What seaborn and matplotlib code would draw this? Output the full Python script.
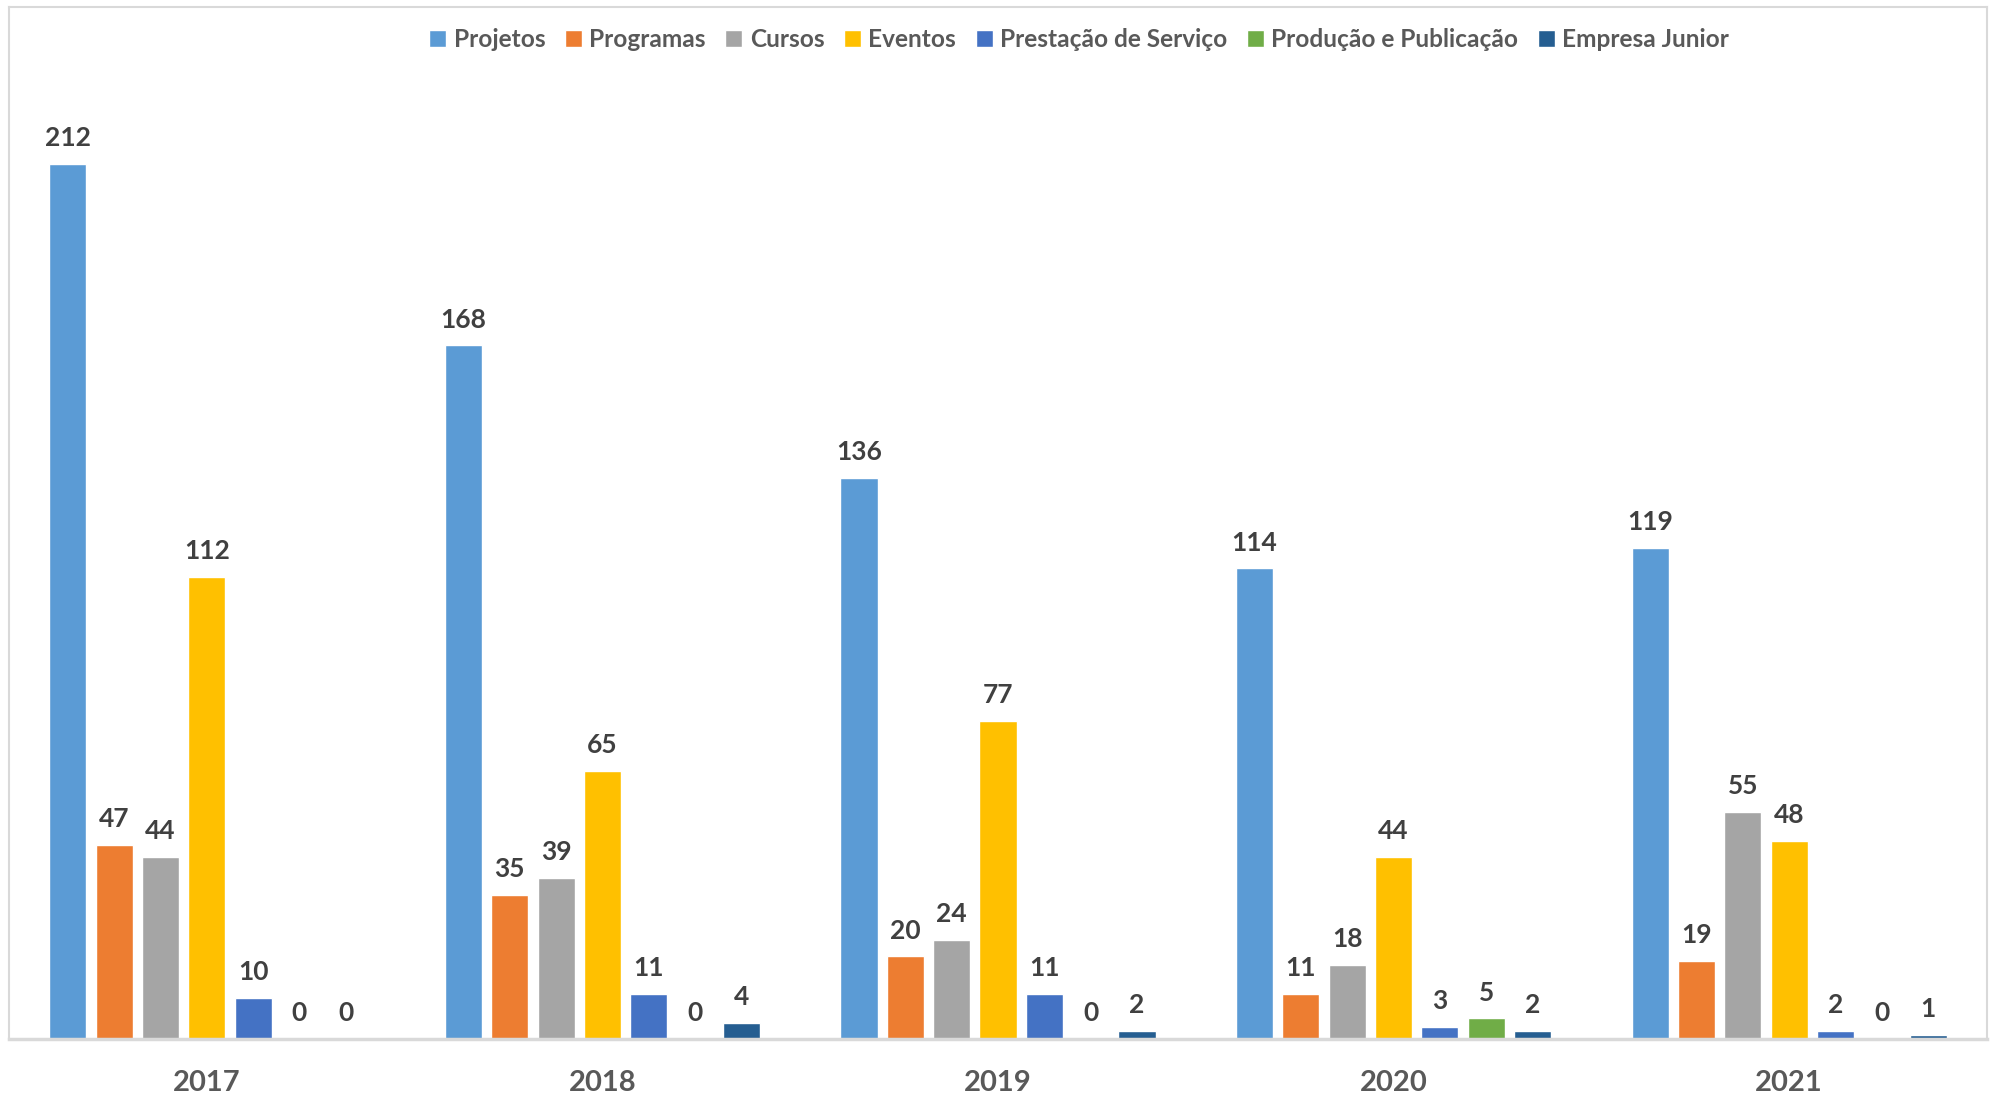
import matplotlib
matplotlib.use("Agg")
import matplotlib.pyplot as plt
import seaborn as sns
import pandas as pd

# ---------------------------------------------------------------------------
# data
# ---------------------------------------------------------------------------
years = ["2017", "2018", "2019", "2020", "2021"]
categories = ["Projetos", "Programas", "Cursos", "Eventos",
              "Prestação de Serviço", "Produção e Publicação", "Empresa Junior"]

projetos = [212, 168, 136, 114, 119]
programas = [47, 35, 20, 11, 19]
cursos = [44, 39, 24, 18, 55]
eventos = [112, 65, 77, 44, 48]
prestacao = [10, 11, 11, 3, 2]
producao = [0, 0, 0, 5, 0]
empresa_junior = [0, 4, 2, 2, 1]

colors = ["#5B9BD5", "#ED7D31", "#A5A5A5", "#FFC000",
          "#4472C4", "#70AD47", "#255E91"]

series = [projetos, programas, cursos, eventos, prestacao, producao, empresa_junior]
rows = []
for cat, vals in zip(categories, series):
    for yr, v in zip(years, vals):
        rows.append({"Ano": yr, "Categoria": cat, "Valor": v})
df = pd.DataFrame(rows)

# ---------------------------------------------------------------------------
# plot
# ---------------------------------------------------------------------------
sns.set_style("white")
plt.rcParams["font.family"] = ["Lato", "DejaVu Sans"]

fig = plt.figure(figsize=(19.93, 11.05), dpi=100)
ax = fig.add_axes([0.0045, 0.0597, 0.9925, 0.934])

sns.barplot(data=df, x="Ano", y="Valor", hue="Categoria", hue_order=categories,
            order=years, palette=colors, saturation=1, width=0.82, gap=0.2,
            edgecolor="white", linewidth=1, ax=ax, legend=True)

for cont in ax.containers:
    ax.bar_label(cont, fmt="%d", padding=10, fontsize=19, fontweight="bold",
                 color="#404040")

ax.set_ylim(0, 250)
ax.set_xlim(-0.5, 4.5)
ax.set_yticks([])
ax.set_xlabel("")
ax.set_ylabel("")
ax.set_xticks(range(len(years)), years, fontsize=21, fontweight="bold",
              color="#595959")
ax.tick_params(axis="x", length=0, pad=22)

for side in ["top", "left", "right"]:
    ax.spines[side].set_color("#D9D9D9")
    ax.spines[side].set_linewidth(1.5)
ax.spines["bottom"].set_color("#D9D9D9")
ax.spines["bottom"].set_linewidth(2.5)

handles, labels = ax.get_legend_handles_labels()
ax.legend(handles, labels, loc="center", bbox_to_anchor=(0.541, 0.968),
          ncol=7, frameon=False, handlelength=0.7,
          handleheight=0.7, handletextpad=0.3, columnspacing=0.8,
          labelcolor="#595959", prop={"weight": "bold", "size": 17.6})

fig.savefig("out.png", dpi=100)
plt.close(fig)
